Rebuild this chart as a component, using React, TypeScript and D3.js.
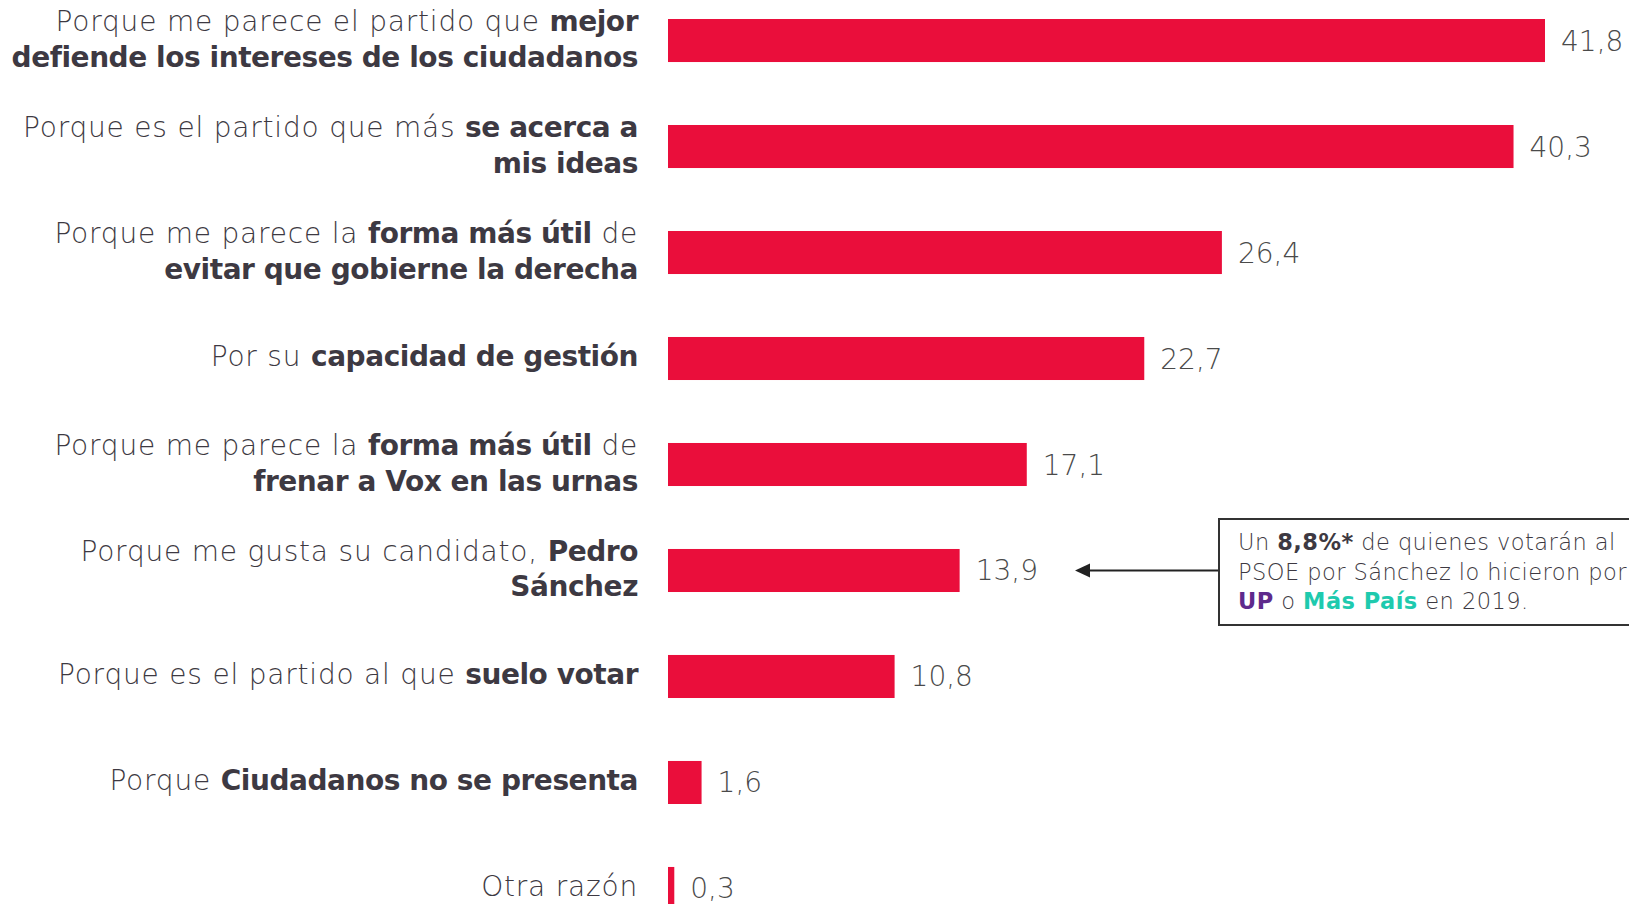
import React from 'react';
import * as d3 from 'd3';

// Reasons to vote PSOE (%). "**" marks bold runs, "\n" breaks the line.
const reasons = [
  "Porque me parece el partido que **mejor**\n**defiende los intereses de los ciudadanos**",
  "Porque es el partido que más **se acerca a**\n**mis ideas**",
  "Porque me parece la **forma más útil** de\n**evitar que gobierne la derecha**",
  "Por su **capacidad de gestión**",
  "Porque me parece la **forma más útil** de\n**frenar a Vox en las urnas**",
  "Porque me gusta su candidato, **Pedro**\n**Sánchez**",
  "Porque es el partido al que **suelo votar**",
  "Porque **Ciudadanos no se presenta**",
  "Otra razón",
];
const values = [41.8, 40.3, 26.4, 22.7, 17.1, 13.9, 10.8, 1.6, 0.3];

const noteIndex = 5;
const noteLines = [
  [{ t: "Un " }, { t: "8,8%*", b: true }, { t: " de quienes votarán al" }],
  [{ t: "PSOE por Sánchez lo hicieron por" }],
  [{ t: "UP", b: true, c: "#5e2a8c" }, { t: " o " }, { t: "Más País", b: true, c: "#1ecaae" }, { t: " en 2019." }],
];

const W = 1629;
const H = 904;
const FONT = "'DejaVu Sans', sans-serif";
const TEXT = "#3d3942";
const RED = "#ea0e3b";

const es = d3.formatLocale({ decimal: ",", thousands: ".", grouping: [3], currency: ["", "€"] });
const fmt = es.format(".1f");

function parse(line: string) {
  return line.split("**").map((t, i) => ({ t, b: i % 2 === 1 })).filter(s => s.t.length);
}

export default function App() {
  const x = d3.scaleLinear().domain([0, d3.max(values) as number]).range([668, 1545]);
  const y = d3.scaleBand<number>()
    .domain(values.map((_, i) => i))
    .range([19, 910])
    .paddingInner(0.594)
    .paddingOuter(0)
    .align(0);

  const labelX = 638;
  const lineH = 35.5;
  const noteY = (y(noteIndex) as number) + y.bandwidth() / 2;
  const boxX = 1219, boxTop = 519, boxH = 106;

  return (
    <svg width={W} height={H} style={{ position: 'absolute', left: 0, top: 0, background: '#fff' }}
      fontFamily={FONT}>
      <rect width={W} height={H} fill="#fff" />
      {values.map((v, i) => {
        const cy = (y(i) as number) + y.bandwidth() / 2;
        const lines = reasons[i].split("\n");
        const first = lines.length > 1 ? cy - 9.5 : cy + 7.5;
        return (
          <g key={i}>
            {lines.map((ln, k) => (
              <text key={k} x={labelX} y={first + k * lineH}
                textAnchor="end" fontSize={28} fill={TEXT} fontWeight={300}>
                {parse(ln).map((s, j) => (
                  <tspan key={j} fontWeight={s.b ? 700 : 300} letterSpacing={s.b ? -0.45 : 0.8}>{s.t}</tspan>
                ))}
              </text>
            ))}
            <rect x={x(0)} y={y(i)} width={x(v) - x(0)} height={y.bandwidth()} fill={RED} />
            <text x={x(v) + 16} y={cy + 10} fontSize={28} fontWeight={300} fill="#4a4a4a">{fmt(v)}</text>
          </g>
        );
      })}

      {/* annotation */}
      <line x1={boxX} x2={1088} y1={noteY} y2={noteY} stroke="#222" strokeWidth={2} />
      <path d={`M1075,${noteY} L1090,${noteY - 7} L1090,${noteY + 7} Z`} fill="#222" />
      <rect x={boxX} y={boxTop} width={500} height={boxH} fill="#fff" stroke="#333" strokeWidth={2} />
      {noteLines.map((ln, k) => (
        <text key={k} x={boxX + 19} y={boxTop + 31 + k * 29.5} fontSize={22.5} fill={TEXT} fontWeight={300}
          letterSpacing={0.45}>
          {ln.map((s: any, j) => (
            <tspan key={j} fontWeight={s.b ? 700 : 300} fill={s.c || TEXT}>{s.t}</tspan>
          ))}
        </text>
      ))}
    </svg>
  );
}
